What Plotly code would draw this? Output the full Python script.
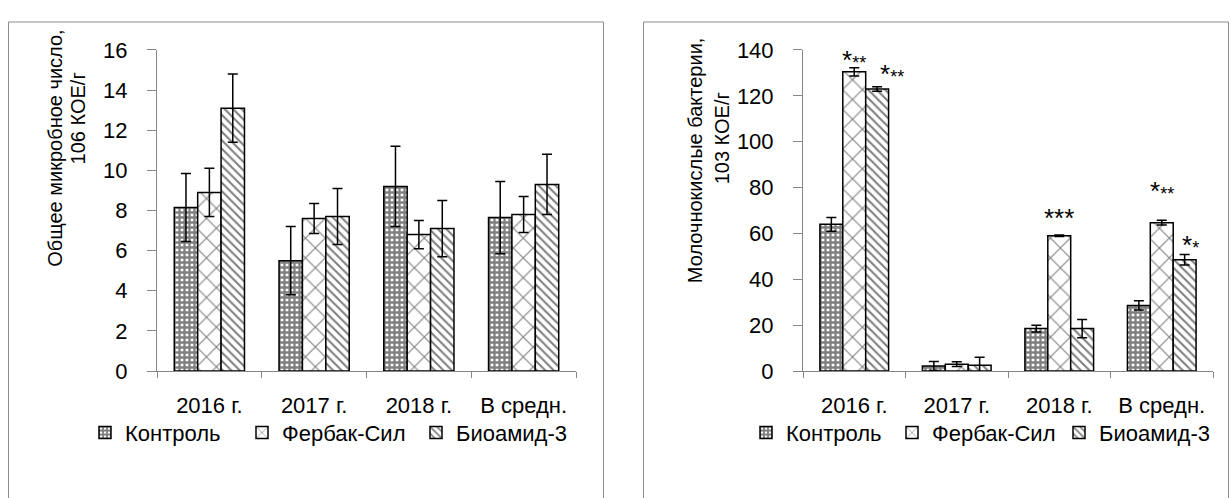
import plotly.graph_objects as go

categories = ["2016 г.", "2017 г.", "2018 г.", "В средн."]
series_names = ["Контроль", "Фербак-Сил", "Биоамид-3"]

# Left chart: total microbial count, 10^6 CFU/g
left_control = [8.15, 5.5, 9.2, 7.65]
left_control_err = [1.7, 1.7, 2.0, 1.8]
left_ferbak = [8.9, 7.6, 6.8, 7.8]
left_ferbak_err = [1.2, 0.75, 0.7, 0.9]
left_bioamid = [13.1, 7.7, 7.1, 9.3]
left_bioamid_err = [1.7, 1.4, 1.4, 1.5]

# Right chart: lactic acid bacteria, 10^3 CFU/g
right_control = [64, 2.2, 18.5, 28.6]
right_control_err = [3, 2, 1.5, 2]
right_ferbak = [130.5, 3, 59, 64.7]
right_ferbak_err = [1.8, 1, 0.3, 1]
right_bioamid = [123, 2.5, 18.5, 48.5]
right_bioamid_err = [1, 3.5, 4, 2.3]

# significance marks on right chart: (series index, category index, big part, small part)
right_marks = [(1, 0, "*", "**"), (2, 0, "*", "**"), (1, 2, "***", ""), (1, 3, "*", "**"), (2, 3, "*", "*")]
# pixel nudges of those marks (dx, dy)
mark_nudges = [(0, -9), (15, -4), (0, 0), (0, 12), (6, -7)]

FONT = "Liberation Sans, Arial, sans-serif"
FS = 22
W, H = 1231, 498
patterns = [
    dict(shape="+", size=5, solidity=0.7, fgcolor="black", bgcolor="white"),
    dict(shape="x", size=14, solidity=0.15, fgcolor="black", bgcolor="white"),
    dict(shape="\\", size=6, solidity=0.35, fgcolor="black", bgcolor="white"),
]

def px_x(p):
    return p / W

def px_y(p):
    return 1 - p / H

fig = go.Figure()

left_sets = [(left_control, left_control_err), (left_ferbak, left_ferbak_err), (left_bioamid, left_bioamid_err)]
right_sets = [(right_control, right_control_err), (right_ferbak, right_ferbak_err), (right_bioamid, right_bioamid_err)]

left_legends = ["legend", "legend2", "legend3"]
right_legends = ["legend4", "legend5", "legend6"]

for i, (vals, errs) in enumerate(left_sets):
    fig.add_trace(go.Bar(
        x=categories, y=vals, name=series_names[i], xaxis="x", yaxis="y", legend=left_legends[i],
        marker=dict(color="white", pattern=patterns[i], line=dict(color="black", width=1.5)),
        error_y=dict(type="data", array=errs, visible=True, color="black", thickness=1.5, width=5),
    ))
for i, (vals, errs) in enumerate(right_sets):
    fig.add_trace(go.Bar(
        x=categories, y=vals, name=series_names[i], xaxis="x2", yaxis="y2", legend=right_legends[i],
        marker=dict(color="white", pattern=patterns[i], line=dict(color="black", width=1.5)),
        error_y=dict(type="data", array=errs, visible=True, color="black", thickness=1.5, width=5),
    ))

axis_common = dict(showline=True, linecolor="#868686", linewidth=1, ticks="outside",
                   tickcolor="#868686", tickfont=dict(family=FONT, size=FS, color="black"),
                   showgrid=False, zeroline=False, fixedrange=True)

legend_common = dict(orientation="h", xanchor="left", yanchor="middle", y=px_y(443),
                     font=dict(family=FONT, size=FS), bgcolor="rgba(0,0,0,0)", itemwidth=30)
legend_x = [85, 242, 416, 746, 892, 1059]

layout_legends = {}
for name, lx in zip(left_legends + right_legends, legend_x):
    layout_legends[name] = dict(x=px_x(lx), **legend_common)

fig.update_layout(
    width=W, height=H, margin=dict(l=0, r=0, t=0, b=0),
    paper_bgcolor="white", plot_bgcolor="white",
    barmode="group", bargap=0.33, bargroupgap=0,
    font=dict(family=FONT, size=FS, color="black"),
    xaxis=dict(domain=[px_x(157), px_x(576)], anchor="y", tickson="boundaries", ticklen=6, ticklabelstandoff=15, **axis_common),
    yaxis=dict(domain=[px_y(378), px_y(40)], anchor="x", range=[0, 16], dtick=2, ticklen=9, ticklabelstandoff=15, **axis_common),
    xaxis2=dict(domain=[px_x(803), px_x(1213)], anchor="y2", tickson="boundaries", ticklen=6, ticklabelstandoff=15, **axis_common),
    yaxis2=dict(domain=[px_y(378), px_y(40)], anchor="x2", range=[0, 140], dtick=20, ticklen=9, ticklabelstandoff=15, **axis_common),
    showlegend=True,
    **layout_legends,
)

# frames around each panel
fig.add_shape(type="rect", xref="paper", yref="paper", x0=px_x(8.5), x1=px_x(603.5), y0=px_y(520), y1=px_y(10.5),
              line=dict(color="#8c8c8c", width=1))
fig.add_shape(type="rect", xref="paper", yref="paper", x0=px_x(643.5), x1=px_x(1228.5), y0=px_y(520), y1=px_y(10.5),
              line=dict(color="#8c8c8c", width=1))

# y-axis titles (two lines each)
titles = [("Общее микробное число,", 55, 144), ("106 КОЕ/г", 78, 112),
          ("Молочнокислые бактерии,", 695, 156), ("103 КОЕ/г", 722, 133)]
for txt, tx, ty in titles:
    fig.add_annotation(text=txt, xref="paper", yref="paper", x=px_x(tx), y=px_y(ty),
                       xanchor="center", yanchor="middle",
                       textangle=-90, showarrow=False, font=dict(family=FONT, size=20))

# significance asterisks
bar_w = (1 - 0.33) / 3
for (s, c, big, small), (dx, dy) in zip(right_marks, mark_nudges):
    vals, errs = right_sets[s]
    xpos = c + (s - 1) * bar_w
    txt = big + (f"<span style='font-size:18px'>{small}</span>" if small else "")
    fig.add_annotation(text=txt, x=xpos, y=vals[c] + errs[c], xref="x2", yref="y2",
                       xanchor="center", yanchor="bottom", yshift=dy, xshift=dx,
                       showarrow=False, font=dict(family=FONT, size=26))

fig.write_html("out.html")
